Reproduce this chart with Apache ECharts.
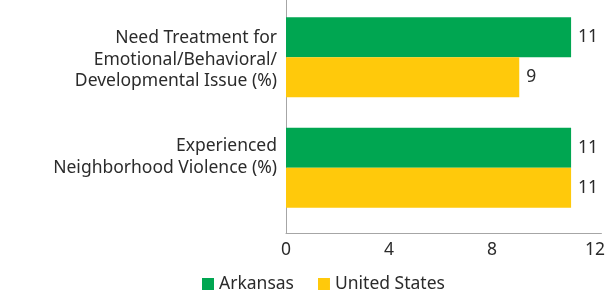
<!DOCTYPE html>
<html>
<head>
<meta charset="utf-8">
<script src="https://cdn.jsdelivr.net/npm/echarts@6/dist/echarts.min.js"></script>
<style>
  html, body { margin: 0; padding: 0; background: #fff; }
  #main { width: 608px; height: 296px; }
</style>
</head>
<body>
<div id="main"></div>
<script>
// categories and values
var categories = ['Need Treatment for\nEmotional/Behavioral/\nDevelopmental Issue (%)', 'Experienced\nNeighborhood Violence (%)'];
var arkansas = [11, 11];
var unitedStates = [9, 11];
var xTicks = [0, 4, 8, 12];

var textColor = '#2b2b2b';
var fontFamily = 'Noto Sans';
var fontSize = 17.5;

const chart = echarts.init(document.getElementById('main'), null, { renderer: 'canvas' });

let option = {
	animation: false,
	textStyle: { fontFamily: fontFamily },
	legend: {
		left: 202,
		top: 275,
		padding: 0,
		itemWidth: 12,
		itemHeight: 12,
		itemGap: 24,
		icon: 'rect',
		textStyle: { fontSize: fontSize, color: textColor, fontFamily: fontFamily },
		data: ['Arkansas', 'United States']
	},
	grid: [
		// bars
		{ left: 286, right: 11, top: 2, bottom: 73 },
		// axis frame
		{ left: 286, right: 5, top: 0, bottom: 63 },
		// category labels
		{ left: 286, right: 11, top: 11, bottom: 90 }
	],
	xAxis: [
		{ gridIndex: 0, type: 'value', min: 0, max: xTicks[xTicks.length - 1], show: false },
		{
			gridIndex: 1, type: 'value', min: 0, max: 12.25, interval: 4,
			axisLine: { show: true, lineStyle: { color: '#a6a6a6', width: 1 } },
			axisTick: { show: false },
			splitLine: { show: false },
			axisLabel: {
				margin: 8, fontSize: fontSize, color: textColor, fontFamily: fontFamily,
				formatter: function (v) { return xTicks.indexOf(v) >= 0 ? String(v) : ''; }
			}
		},
		{ gridIndex: 2, type: 'value', min: 0, max: 12, show: false }
	],
	yAxis: [
		{ gridIndex: 0, type: 'category', inverse: true, data: categories, show: false },
		{
			gridIndex: 1, type: 'value', min: 0, max: 1,
			axisLine: { show: true, lineStyle: { color: '#a6a6a6', width: 1 } },
			axisTick: { show: false },
			axisLabel: { show: false },
			splitLine: { show: false }
		},
		{
			gridIndex: 2, type: 'category', inverse: true, data: categories,
			axisLine: { show: false },
			axisTick: { show: false },
			axisLabel: {
				margin: 9, fontSize: fontSize, lineHeight: 21.5, color: textColor,
				fontFamily: fontFamily, align: 'right'
			}
		}
	],
	series: [
		{
			name: 'Arkansas',
			type: 'bar',
			xAxisIndex: 0,
			yAxisIndex: 0,
			data: arkansas,
			barWidth: 40,
			barGap: '0%',
			itemStyle: { color: '#00a651' },
			label: { show: true, position: 'right', distance: 7, fontSize: fontSize, color: textColor, fontFamily: fontFamily }
		},
		{
			name: 'United States',
			type: 'bar',
			xAxisIndex: 0,
			yAxisIndex: 0,
			data: unitedStates,
			barWidth: 40,
			barGap: '0%',
			itemStyle: { color: '#ffc90b' },
			label: { show: true, position: 'right', distance: 7, fontSize: fontSize, color: textColor, fontFamily: fontFamily }
		}
	]
};

chart.setOption(option);
</script>
</body>
</html>
